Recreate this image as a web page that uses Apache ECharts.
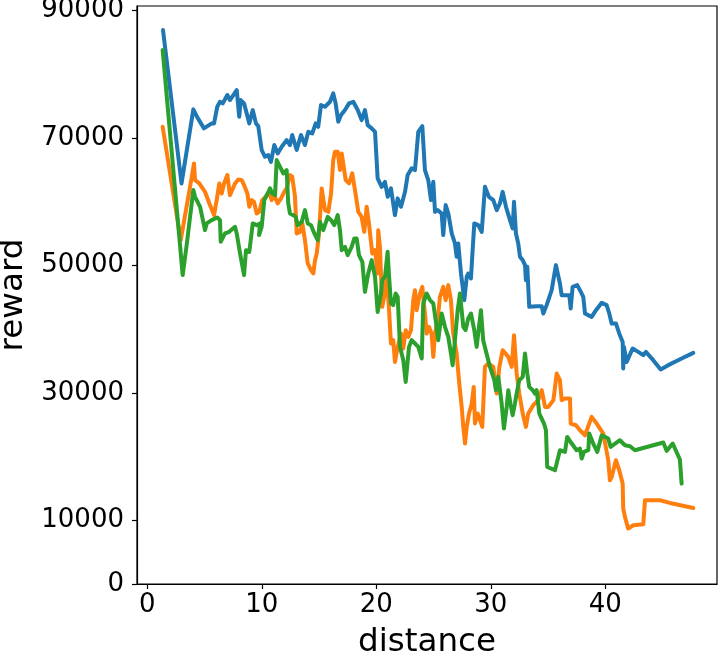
<!DOCTYPE html>
<html>
<head>
<meta charset="utf-8">
<script src="https://cdn.jsdelivr.net/npm/echarts@6/dist/echarts.min.js"></script>
<style>html,body{margin:0;padding:0;background:#fff}#c{width:718px;height:660px}</style>
</head>
<body>
<div id="c"></div>
<script>
// ---- data ----
const xTicks = [0, 10, 20, 30, 40];
const yTicks = [0, 10000, 30000, 50000, 70000, 90000];

const blueDist = [1.37,2.99,4.02,4.37,4.95,5.62,5.83,6.11,6.35,6.59,6.99,7.22,7.81,8.03,8.16,8.45,8.91,9.21,9.49,9.69,9.99,10.28,10.57,10.80,11.09,11.39,11.74,12.17,12.46,12.66,13.05,13.42,13.77,14.06,14.41,14.71,14.93,15.17,15.52,15.96,16.24,16.45,16.68,16.92,17.27,17.62,17.99,18.38,18.72,19.01,19.25,19.60,19.89,20.12,20.47,20.76,21.00,21.28,21.48,21.63,21.87,22.16,22.51,22.74,23.09,23.38,23.67,24.02,24.25,24.54,24.78,24.98,25.13,25.36,25.71,25.85,26.06,26.29,26.59,26.87,27.02,27.16,27.40,27.69,27.90,28.03,28.27,28.38,28.56,28.91,29.21,29.49,29.84,30.22,30.52,30.80,31.04,31.33,31.68,31.91,32.03,32.20,32.40,32.55,32.79,32.99,33.07,33.19,33.36,34.01,34.45,34.59,34.88,35.32,35.69,36.04,36.19,36.86,36.98,37.15,37.55,37.79,38.08,38.23,38.81,39.19,39.69,40.12,40.35,40.56,40.93,41.22,41.52,41.57,41.63,41.87,42.39,42.88,43.32,43.55,44.19,44.84,45.50,46.67,47.69];
const blueReward = [86930,62860,74480,73220,71500,72280,72280,74890,75670,75420,76730,75940,77510,73320,75940,75420,72280,74370,72280,71860,68100,67040,67300,66250,68880,67570,68610,69660,68880,70450,68100,70450,68880,70960,70710,72280,71750,75160,74890,75670,76990,75420,72530,73580,74370,75420,75670,74370,72800,74370,72010,71500,70960,63650,62330,63110,60760,62080,59720,57890,60510,59190,61540,64170,65220,64950,70960,71860,64950,63380,60240,63110,58400,58670,58150,54750,59460,58150,55010,53440,51340,53440,48730,44540,48200,48730,47950,51340,56580,56320,55260,62330,60760,60240,58670,59720,61540,59190,57100,55800,59970,55010,53440,51340,50820,50040,47680,49770,43490,43600,43600,42450,43760,46110,50040,47160,45330,45330,43240,46630,46900,46110,45060,42450,41920,42970,44120,43760,42450,40880,40880,39310,37990,33820,37210,34850,36960,36420,35910,36420,35120,33660,34340,35390,36270];

const orangeDist = [1.34,2.92,3.73,4.08,4.17,4.54,5.04,5.42,5.83,6.06,6.29,6.50,6.70,6.99,7.22,7.66,7.95,8.25,8.45,8.74,8.91,9.12,9.32,9.55,9.78,10.04,10.34,10.63,10.86,11.09,11.39,11.68,11.96,12.17,12.46,12.66,12.90,13.05,13.34,13.54,13.77,14.01,14.30,14.50,14.65,14.80,15.00,15.23,15.52,15.81,16.05,16.24,16.39,16.63,16.83,16.98,17.12,17.33,17.62,17.90,18.14,18.43,18.72,18.95,19.16,19.36,19.65,19.89,20.12,20.17,20.32,20.52,20.69,20.91,21.10,21.28,21.48,21.63,21.87,22.16,22.36,22.57,22.80,23.03,23.23,23.38,23.53,23.82,24.02,24.25,24.40,24.60,24.83,24.98,25.13,25.36,25.56,25.85,26.06,26.29,26.52,26.72,27.02,27.22,27.46,27.60,27.75,27.90,28.10,28.34,28.51,28.62,28.86,29.06,29.26,29.49,29.78,30.22,30.38,30.52,30.75,31.04,31.53,31.83,32.03,32.26,32.49,32.79,33.07,33.27,33.71,34.15,34.45,34.74,35.03,35.47,35.76,36.04,36.19,36.48,36.92,36.98,37.44,37.79,38.23,38.81,39.25,39.83,40.26,40.41,40.56,40.93,41.22,41.52,41.57,41.72,42.00,42.45,43.32,43.47,44.78,45.65,47.69];
const orangeReward = [71750,53960,62300,66000,63380,62860,61540,59720,57890,60240,62860,61280,62860,64170,61020,62860,63490,63380,62600,61280,59190,60240,59980,58150,58400,60240,60760,61540,60240,61020,59720,60500,61540,62060,64170,63910,60760,55010,55260,56580,53960,50300,49250,48730,50820,51870,55010,62080,58670,58400,61280,66520,67820,67820,64950,67570,67820,63380,62860,64430,61800,58400,57620,55260,59190,56580,51870,52390,48730,55530,52900,43490,45060,48200,43490,37740,38260,34850,37210,39310,36960,39830,38780,39830,44540,46110,42970,45590,46630,42450,39310,40360,39310,35640,39310,41400,45060,46630,44540,46900,44540,39310,36170,31980,27790,24650,22040,24650,26750,28320,30930,25180,26750,25700,24650,34070,34600,34070,33810,29890,34070,36690,35640,34070,39050,33030,29890,26750,24650,26750,28060,28850,30410,27790,27790,28850,33030,31980,28850,29110,29110,25180,24910,24130,23340,26220,25180,23610,19420,16280,16800,19420,17850,15760,11840,10530,8700,9220,9370,13140,13140,12720,11930];

const greenDist = [1.34,3.09,3.43,4.02,4.17,4.61,5.04,5.19,5.62,6.11,6.35,6.41,6.79,7.15,7.66,7.81,8.10,8.45,8.62,8.91,9.21,9.55,9.84,9.76,9.99,10.22,10.51,10.72,10.92,11.16,11.30,11.59,11.88,12.17,12.31,12.46,12.75,12.96,13.14,13.49,13.77,14.01,14.30,14.59,14.88,15.08,15.37,15.76,16.05,16.33,16.63,16.83,16.98,17.27,17.50,17.85,18.08,18.29,18.49,18.78,19.01,19.30,19.60,19.89,20.12,20.17,20.41,20.52,20.76,20.99,21.10,21.28,21.48,21.69,21.87,22.07,22.36,22.57,22.74,22.86,23.09,23.38,23.67,23.97,24.10,24.40,24.69,24.98,25.19,25.41,25.71,26.00,26.29,26.52,26.67,26.87,27.11,27.31,27.60,27.80,28.03,28.27,28.56,28.77,28.97,29.14,29.34,29.63,29.93,30.31,30.45,30.66,30.95,31.15,31.39,31.53,31.74,31.91,32.11,32.26,32.49,32.79,32.99,33.19,33.36,33.66,33.86,34.01,34.24,34.65,34.82,34.93,35.61,36.04,36.48,36.68,37.07,37.50,37.79,37.94,38.14,38.52,38.60,38.95,39.30,39.69,39.83,40.26,40.47,41.28,41.72,42.16,42.59,45.07,45.36,45.89,46.52,46.67];
const greenReward = [83790,48470,53090,61810,60760,59190,55530,56580,57100,57520,57100,53700,55010,55270,56050,55010,51870,48470,52390,52120,56580,56310,56580,54750,56050,60240,61280,62080,61280,61020,66520,65470,64430,64950,59720,58150,57880,57620,56310,56830,58670,56580,56310,55010,53960,56830,55530,57620,57100,56310,57890,55530,52390,52910,51610,52910,54230,54230,51610,50560,45840,48730,50820,48200,42700,42970,45590,47680,48200,52120,48730,44020,43760,45590,45060,37210,35120,31710,31450,37210,38260,37740,37210,35380,44020,45590,44540,44020,41400,38260,42450,40360,38780,36170,34340,38260,42970,45590,40360,39830,41660,42450,39830,37210,40360,42970,38260,36170,34070,31980,30410,32500,28320,24400,27790,30410,28060,26490,28320,29890,31980,32500,36170,33030,30930,30410,29890,30410,26750,25180,24130,18370,17850,20990,20730,23080,22040,20990,21250,19690,20730,20990,23610,22040,20730,23350,23350,22820,21510,22560,21770,21620,20990,22200,20890,22040,19530,15760];

// ---- chart ----
const pair = (xs, ys) => xs.map((x, i) => [x, ys[i]]);
const font = 'DejaVu Sans';
const chart = echarts.init(document.getElementById('c'), null, {renderer: 'canvas'});
const mk = (name, color, xs, ys) => ({
  name, type: 'line', data: pair(xs, ys), showSymbol: false, symbol: 'none',
  lineStyle: {color, width: 4, join: 'round', cap: 'round'}, itemStyle: {color},
  animation: false, clip: true, z: 2
});
chart.setOption({
  animation: false,
  backgroundColor: '#ffffff',
  grid: {left: 137, top: 6, right: 1, bottom: 76, outerBoundsMode: 'none', containLabel: false,
         show: true, borderColor: '#000', borderWidth: 1.2, backgroundColor: 'transparent'},
  xAxis: {
    type: 'value', min: -0.9, max: 49.76,
    name: 'distance', nameLocation: 'middle', nameGap: 42,
    nameTextStyle: {fontFamily: font, fontSize: 32.6, color: '#000'},
    axisLine: {show: true, onZero: false, lineStyle: {color: '#000', width: 1.2}},
    axisTick: {show: true, length: 5, inside: false, customValues: xTicks, lineStyle: {color: '#000', width: 1.2}},
    axisLabel: {customValues: xTicks, fontFamily: font, fontSize: 26, color: '#000', margin: 8,
                formatter: v => String(v)},
    splitLine: {show: false}
  },
  yAxis: {
    type: 'value', min: 0, max: 90700,
    name: 'reward', nameLocation: 'middle', nameGap: 95,
    nameTextStyle: {fontFamily: font, fontSize: 32.6, color: '#000'},
    axisLine: {show: true, onZero: false, lineStyle: {color: '#000', width: 1.2}},
    axisTick: {show: true, length: 5, inside: false, customValues: yTicks, lineStyle: {color: '#000', width: 1.2}},
    axisLabel: {customValues: yTicks, fontFamily: font, fontSize: 26, color: '#000', margin: 13,
                formatter: v => String(v)},
    splitLine: {show: false}
  },
  series: [
    mk('blue', '#1f77b4', blueDist, blueReward),
    mk('orange', '#ff7f0e', orangeDist, orangeReward),
    mk('green', '#2ca02c', greenDist, greenReward)
  ]
});
</script>
</body>
</html>
